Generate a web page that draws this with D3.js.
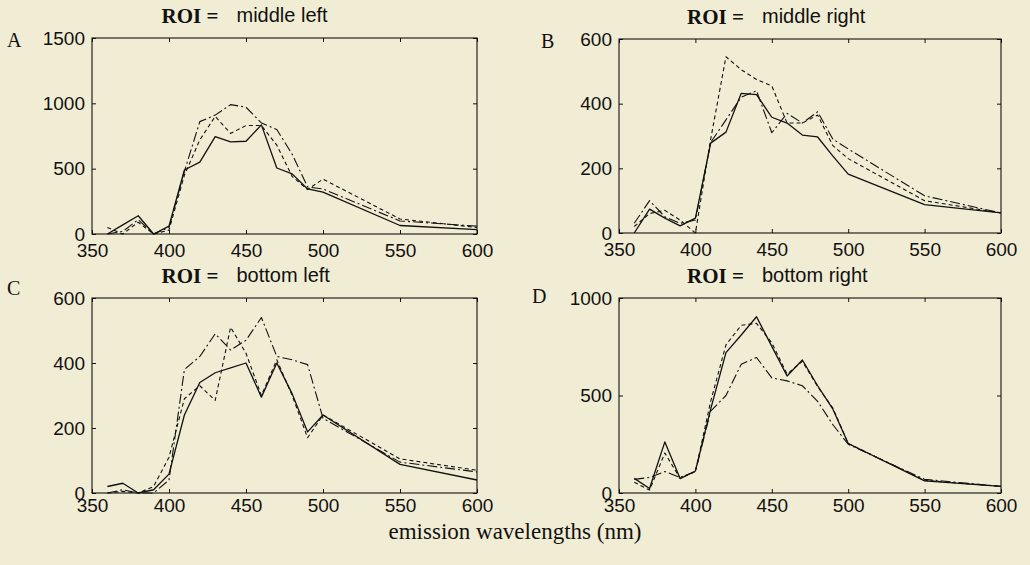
<!DOCTYPE html>
<html>
<head>
<meta charset="utf-8">
<script src="https://cdn.jsdelivr.net/npm/d3@7"></script>
<style>
  body { margin: 0; background: #f1edd4; }
  svg { display: block; }
</style>
</head>
<body>
<div id="chart"></div>
<script>
// emission wavelengths sampled (nm)
const wavelengths = [360, 370, 380, 390, 400, 410, 420, 430, 440, 450, 460, 470, 480, 490, 500, 550, 600];
const xTicks = [350, 400, 450, 500, 550, 600];

// A - middle left
const middleLeftSolid = [0, 70, 140, 0, 60, 490, 550, 745, 705, 710, 835, 505, 460, 345, 320, 65, 33];
const middleLeftDashed = [50, 0, 90, 0, 30, 450, 720, 900, 770, 830, 830, 680, 440, 340, 420, 115, 50];
const middleLeftDashDot = [0, 20, 110, 0, 50, 480, 860, 910, 990, 970, 850, 800, 610, 360, 345, 100, 60];
const middleLeftTicks = [0, 500, 1000, 1500];

// B - middle right
const middleRightSolid = [0, 74, 46, 22, 46, 278, 312, 432, 428, 358, 340, 303, 297, 238, 182, 88, 62];
const middleRightDashed = [20, 60, 70, 40, 0, 290, 545, 505, 475, 455, 340, 340, 365, 270, 230, 100, 62];
const middleRightDashDot = [30, 100, 50, 30, 40, 280, 350, 420, 440, 310, 370, 340, 375, 290, 260, 115, 62];
const middleRightTicks = [0, 200, 400, 600];

// C - bottom left
const bottomLeftSolid = [20, 30, 0, 10, 58, 240, 340, 370, 385, 400, 295, 400, 305, 188, 240, 88, 40];
const bottomLeftDashed = [0, 5, 0, 20, 110, 290, 330, 285, 510, 430, 300, 410, 300, 170, 240, 105, 70];
const bottomLeftDashDot = [0, 10, 0, 0, 40, 380, 420, 490, 440, 470, 540, 420, 410, 395, 230, 95, 65];
const bottomLeftTicks = [0, 200, 400, 600];

// D - bottom right
const bottomRightSolid = [75, 23, 262, 74, 113, 430, 720, 810, 904, 752, 600, 682, 550, 430, 254, 62, 34];
const bottomRightDashed = [55, 15, 205, 75, 110, 470, 760, 860, 870, 770, 610, 675, 545, 435, 254, 65, 34];
const bottomRightDashDot = [70, 80, 110, 80, 110, 420, 500, 660, 695, 590, 575, 550, 470, 350, 250, 70, 34];
const bottomRightTicks = [0, 500, 1000];

const roiNames = ['middle left', 'middle right', 'bottom left', 'bottom right'];
const panelLetters = ['A', 'B', 'C', 'D'];

const width = 1030;
const height = 565;
const ink = '#111';

const panels = [
  { letter: panelLetters[0], roi: roiNames[0], ticks: middleLeftTicks,
    series: [middleLeftSolid, middleLeftDashed, middleLeftDashDot],
    left: 92, right: 477, top: 38, bottom: 234, xPad: 10, letterX: 7, letterY: 47 },
  { letter: panelLetters[1], roi: roiNames[1], ticks: middleRightTicks,
    series: [middleRightSolid, middleRightDashed, middleRightDashDot],
    left: 619, right: 1001, top: 39, bottom: 233, xPad: 10, letterX: 541, letterY: 48 },
  { letter: panelLetters[2], roi: roiNames[2], ticks: bottomLeftTicks,
    series: [bottomLeftSolid, bottomLeftDashed, bottomLeftDashDot],
    left: 92, right: 477, top: 298, bottom: 493, xPad: 6, letterX: 7, letterY: 295 },
  { letter: panelLetters[3], roi: roiNames[3], ticks: bottomRightTicks,
    series: [bottomRightSolid, bottomRightDashed, bottomRightDashDot],
    left: 619, right: 1001, top: 298, bottom: 493, xPad: 6, letterX: 532, letterY: 303 },
];

// solid, dashed, dash-dot
const lineStyles = [
  { dash: null, width: 1.3 },
  { dash: '4,3', width: 1.1 },
  { dash: '10,3,2,3', width: 1.1 },
];

const svg = d3.select('#chart')
  .append('svg')
  .attr('width', width)
  .attr('height', height);

svg.append('rect')
  .attr('width', width)
  .attr('height', height)
  .attr('fill', '#f1edd4');

function styleAxis(g) {
  g.select('.domain').remove();
  g.selectAll('.tick line').attr('stroke', ink);
  g.selectAll('text')
    .attr('fill', ink)
    .attr('font-family', '"Liberation Sans", Arial, sans-serif')
    .attr('font-size', '19px');
}

function drawPanel(p) {
  const yMax = p.ticks[p.ticks.length - 1];
  const x = d3.scaleLinear().domain([350, 600]).range([p.left, p.right]);
  const y = d3.scaleLinear().domain([0, yMax]).range([p.bottom, p.top]);
  const g = svg.append('g').attr('class', 'panel');

  // axes with inward ticks
  g.append('g')
    .attr('transform', 'translate(0,' + p.bottom + ')')
    .call(d3.axisBottom(x).tickValues(xTicks).tickSizeInner(-4).tickSizeOuter(0).tickPadding(p.xPad).tickFormat(d3.format('d')))
    .call(styleAxis);
  g.append('g')
    .attr('transform', 'translate(0,' + p.top + ')')
    .call(d3.axisTop(x).tickValues(xTicks).tickSizeInner(-4).tickSizeOuter(0).tickFormat(''))
    .call(styleAxis);
  g.append('g')
    .attr('transform', 'translate(' + p.left + ',0)')
    .call(d3.axisLeft(y).tickValues(p.ticks).tickSizeInner(-4).tickSizeOuter(0).tickPadding(7).tickFormat(d3.format('d')))
    .call(styleAxis);
  g.append('g')
    .attr('transform', 'translate(' + p.right + ',0)')
    .call(d3.axisRight(y).tickValues(p.ticks).tickSizeInner(-4).tickSizeOuter(0).tickFormat(''))
    .call(styleAxis);

  // box
  g.append('rect')
    .attr('x', p.left)
    .attr('y', p.top)
    .attr('width', p.right - p.left)
    .attr('height', p.bottom - p.top)
    .attr('fill', 'none')
    .attr('stroke', ink)
    .attr('stroke-width', 1.1);

  const line = d3.line()
    .x((d, i) => x(wavelengths[i]))
    .y((d) => y(d));

  g.selectAll('path.series')
    .data(p.series)
    .enter()
    .append('path')
    .attr('class', 'series')
    .attr('d', line)
    .attr('fill', 'none')
    .attr('stroke', ink)
    .attr('stroke-width', (d, i) => lineStyles[i].width)
    .attr('stroke-dasharray', (d, i) => lineStyles[i].dash)
    .attr('stroke-linejoin', 'round');

  // title
  const cx = (p.left + p.right) / 2;
  g.append('text')
    .attr('x', cx - 123)
    .attr('y', p.top - 15)
    .attr('font-family', '"Liberation Serif", "Times New Roman", serif')
    .attr('font-size', '21px')
    .attr('font-weight', 'bold')
    .attr('fill', ink)
    .text('ROI =');
  g.append('text')
    .attr('x', cx - 48)
    .attr('y', p.top - 16)
    .attr('font-family', '"Liberation Sans", Arial, sans-serif')
    .attr('font-size', '20px')
    .attr('fill', ink)
    .text(p.roi);

  // panel letter
  g.append('text')
    .attr('x', p.letterX)
    .attr('y', p.letterY)
    .attr('font-family', '"Liberation Serif", "Times New Roman", serif')
    .attr('font-size', '20px')
    .attr('fill', ink)
    .text(p.letter);
}

panels.forEach(drawPanel);

svg.append('text')
  .attr('x', 515)
  .attr('y', 539)
  .attr('text-anchor', 'middle')
  .attr('font-family', '"Liberation Serif", "Times New Roman", serif')
  .attr('font-size', '23px')
  .attr('fill', ink)
  .text('emission wavelengths (nm)');
</script>
</body>
</html>
